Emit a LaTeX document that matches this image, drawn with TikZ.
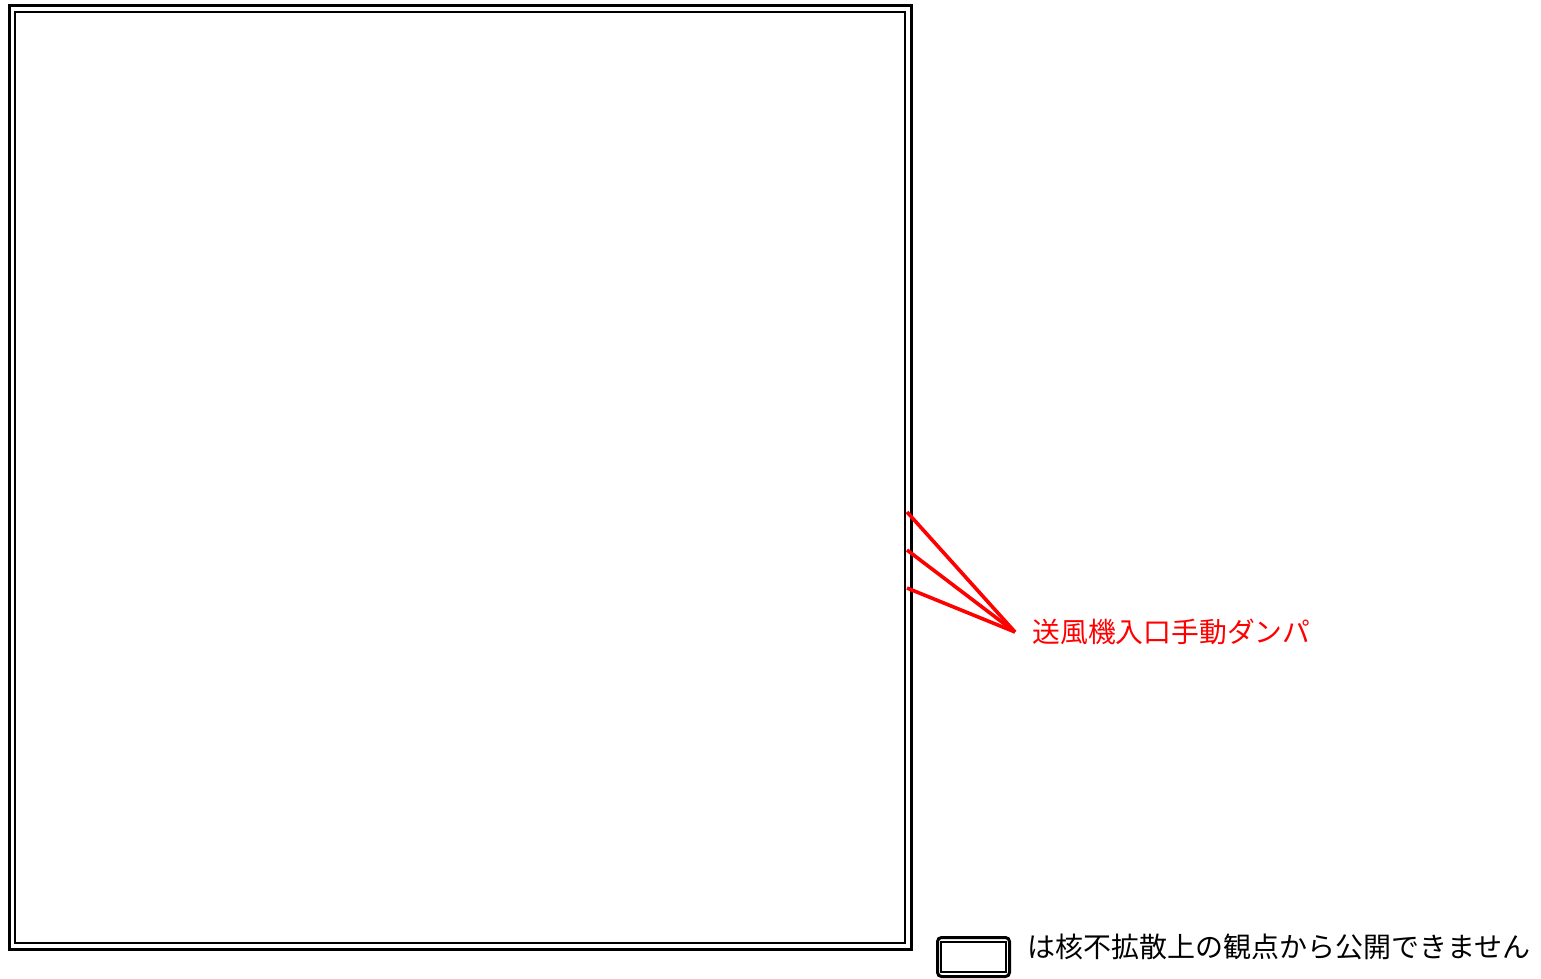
\documentclass[tikz,border=0pt]{standalone}
\usepackage{fontspec}
\newfontfamily\jpfont{Noto Sans CJK JP}
\usetikzlibrary{positioning}
\begin{document}
\begin{tikzpicture}[x=0.5pt,y=-0.5pt,
    frameout/.style={line width=1.5pt},
    framein/.style={line width=1pt},
    leader/.style={draw=red,line width=1.8pt},
    redlabel/.style={text=red,font=\jpfont\fontsize{13.9}{16}\selectfont,anchor=west,inner xsep=8.5pt,inner ysep=0pt},
    keyout/.style={draw,line width=1.5pt,rounded corners=2pt,minimum width=36pt,minimum height=19.5pt,inner sep=0pt},
    keyin/.style={draw,line width=1pt,minimum width=32.5pt,minimum height=15pt,inner sep=0pt},
    keylabel/.style={font=\jpfont\fontsize{14}{17}\selectfont,anchor=west,inner sep=0pt}]
  \useasboundingbox (0,0) rectangle (1541,979);
  % outline
  \draw[frameout] (9,6) rectangle (911,949);
  \draw[framein] (15,12) rectangle (905,943);
  % damper
  \coordinate (d1) at (907,512);
  \coordinate (d2) at (907,550);
  \coordinate (d3) at (907,588);
  \node[redlabel] (damper) at (1015,632) {送風機入口手動ダンパ};
  \draw[leader] (d1) -- (damper.west);
  \draw[leader] (d2) -- (damper.west);
  \draw[leader] (d3) -- (damper.west);
  % legend
  \node[keyout] (keybox) at (973.5,957) {};
  \node[keyin] (keyinner) at (keybox.center) {};
  \node[keylabel] (keytext) at (1027,947) {は核不拡散上の観点から公開できません};
\end{tikzpicture}
\end{document}
